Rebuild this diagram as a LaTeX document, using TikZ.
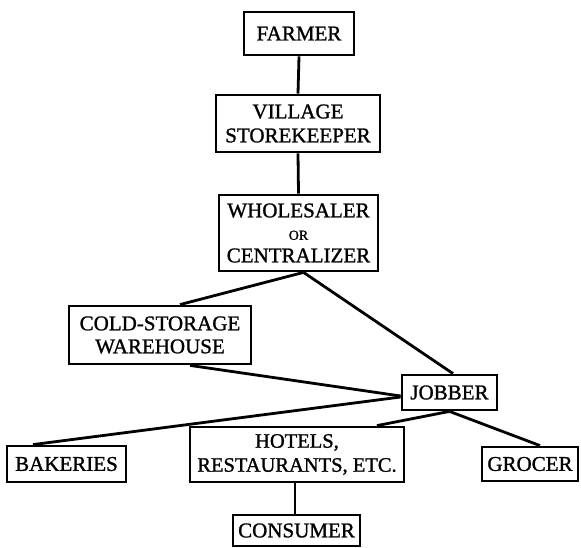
\documentclass[tikz,border=0pt]{standalone}
\usepackage{fontspec}
\setmainfont{Liberation Serif}[BoldFont={Liberation Serif}, BoldFeatures={FakeBold=1.2}]
\begin{document}
\begin{tikzpicture}[x=1pt,y=-1pt,
  box/.style={draw, line width=2.8pt, inner sep=0pt, align=center,
              font=\fontsize{21}{24}\selectfont\bfseries},
  link/.style={line width=2.8pt}]
\useasboundingbox (0,0) rectangle (581,548);
\node[box, minimum width=110pt, minimum height=43pt] (farmer) at (299,33.5) {FARMER};
\node[box, minimum width=164pt, minimum height=57pt] (village) at (298,123.5) {VILLAGE\\STOREKEEPER};
\node[box, minimum width=159pt, minimum height=76pt, font=\fontsize{21}{22.5}\selectfont\bfseries] (whole) at (298.5,233)
  {WHOLESALER\\{\fontsize{14}{14}\selectfont OR}\\CENTRALIZER};
\node[box, minimum width=182pt, minimum height=58pt, font=\fontsize{21}{23}\selectfont\bfseries] (cold) at (160,335) {COLD-STORAGE\\WAREHOUSE};
\node[box, minimum width=95pt, minimum height=35pt] (jobber) at (449.5,392.5) {JOBBER};
\node[box, minimum width=119pt, minimum height=36pt] (bakeries) at (66.5,464) {BAKERIES};
\node[box, minimum width=214pt, minimum height=55pt, font=\fontsize{20.5}{24}\selectfont\bfseries] (hotels) at (297,454.5) {HOTELS,\\RESTAURANTS, ETC.};
\node[box, minimum width=96pt, minimum height=34pt] (grocer) at (530,464) {GROCER};
\node[box, minimum width=127pt, minimum height=31pt] (consumer) at (296.5,530.5) {CONSUMER};

\draw[link] (farmer.south) -- (village.north);
\draw[link] (village.south) -- (whole.north);
\draw[link] ([xshift=5pt]whole.south) -- ([xshift=20pt]cold.north);
\draw[link] ([xshift=5pt]whole.south) -- ([xshift=3.5pt]jobber.north);
\draw[link] ([xshift=30pt]cold.south) -- ([yshift=-3.5pt]jobber.west);
\draw[link] ([yshift=-4.5pt]jobber.west) -- ([xshift=-33.5pt]bakeries.north);
\draw[link] (jobber.south) -- ([xshift=80pt]hotels.north);
\draw[link] (jobber.south) -- ([xshift=10pt]grocer.north);
\draw[link] ([xshift=-2pt]hotels.south) -- ([xshift=-1.5pt]consumer.north);
\end{tikzpicture}
\end{document}
